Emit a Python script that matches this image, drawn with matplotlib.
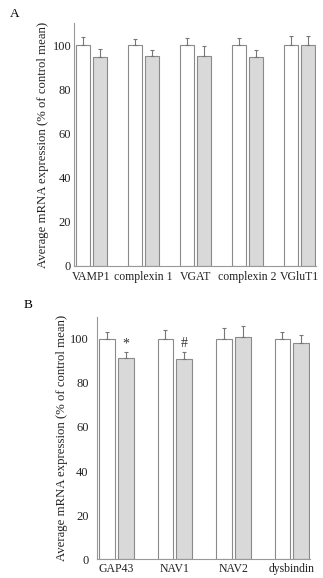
import matplotlib
matplotlib.use("Agg")
import matplotlib.pyplot as plt
import numpy as np

plt.rcParams['font.family'] = ['Liberation Serif', 'DejaVu Serif']

# Panel A data
catsA = ["VAMP1", "complexin 1", "VGAT", "complexin 2", "VGluT1"]
ctrlA = [100, 100, 100, 100, 100]
ctrlA_err = [3.5, 2.6, 3.2, 3.2, 3.9]
trtA = [94.5, 95.2, 95.2, 94.4, 100]
trtA_err = [3.7, 2.5, 4.2, 3.3, 3.9]

# Panel B data
catsB = ["GAP43", "NAV1", "NAV2", "dysbindin"]
ctrlB = [100, 100, 100, 100]
ctrlB_err = [3.0, 4.1, 5.0, 2.9]
trtB = [91.4, 90.8, 100.8, 98.0]
trtB_err = [2.4, 3.3, 5.2, 3.8]
marksB = ["*", "#", "", ""]

yticks = [0, 20, 40, 60, 80, 100]
ylabel = "Average mRNA expression (% of control mean)"

W, H = 323, 578
fig = plt.figure(figsize=(W/100, H/100), dpi=100)

edge = "#8a8a8a"
grayfill = "#d9d9d9"

def panel(rect, cats, ctrl, cerr, trt, terr, width, off, xlim, ypad, xpad, labx, marks=None):
    ax = fig.add_axes(rect)
    x = np.arange(len(cats))
    ax.bar(x - off, ctrl, width, color="white", edgecolor=edge, linewidth=0.8)
    ax.bar(x + off, trt, width, color=grayfill, edgecolor=edge, linewidth=0.8)
    ax.errorbar(x - off, ctrl, yerr=[np.zeros(len(ctrl)), cerr], fmt="none",
                ecolor="#777777", elinewidth=0.8, capsize=1.2, capthick=0.8)
    ax.errorbar(x + off, trt, yerr=[np.zeros(len(trt)), terr], fmt="none",
                ecolor="#777777", elinewidth=0.8, capsize=1.2, capthick=0.8)
    if marks:
        for xi, t, e, m in zip(x, trt, terr, marks):
            if m:
                ax.text(xi + off, t + e + 1.0, m, ha="center", va="bottom",
                        fontsize=10, color="#333333")
    ax.set_ylim(0, 110)
    ax.set_xlim(*xlim)
    ax.set_yticks(yticks)
    ax.set_xticks(x)
    ax.set_xticklabels(cats, fontsize=8.5)
    ax.tick_params(axis="y", length=0, labelsize=9, colors="#222222", pad=ypad)
    ax.tick_params(axis="x", length=0, labelsize=8.5, colors="#222222", pad=xpad)
    for s in ["top", "right"]:
        ax.spines[s].set_visible(False)
    for s in ["left", "bottom"]:
        ax.spines[s].set_color("#999999")
        ax.spines[s].set_linewidth(0.8)
    ax.set_ylabel(ylabel, fontsize=9.2, color="#222222")
    ax.yaxis.set_label_coords(labx, 0.5)
    return ax

axA = panel([74/W, 1 - 266/H, 242/W, 243/H], catsA, ctrlA, ctrlA_err, trtA, trtA_err,
            0.27, 0.168, (-0.337, 4.317), 2, 3.5, -0.103)
axB = panel([97/W, 1 - 559.3/H, 213/W, 242.6/H], catsB, ctrlB, ctrlB_err, trtB, trtB_err,
            0.27, 0.16, (-0.33, 3.31), 6, 3, -0.136, marks=marksB)

fig.text(15/W, 1 - 14/H, "A", fontsize=9.5, ha="center", va="center")
fig.text(28/W, 1 - 305/H, "B", fontsize=9.5, ha="center", va="center")

fig.savefig("out.png", dpi=100)
